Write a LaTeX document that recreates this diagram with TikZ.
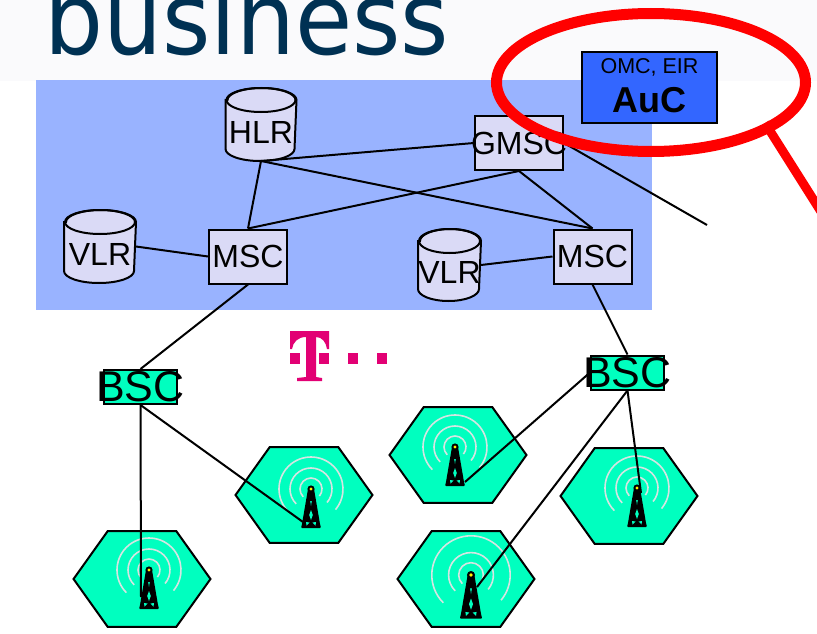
\documentclass[tikz,border=0pt]{standalone}
\usepackage{fontspec}
\setmainfont{Liberation Sans}
\newfontfamily\logofont{DejaVu Sans}

\definecolor{skyblue}{HTML}{99B3FF}
\definecolor{paleblue}{HTML}{DADAF6}
\definecolor{aucblue}{HTML}{3366FF}
\definecolor{cellgreen}{HTML}{00FFBF}
\definecolor{magenta}{HTML}{E20074}
\definecolor{navy}{HTML}{003153}
\definecolor{wavegray}{HTML}{D5E5E2}
\definecolor{headgray}{HTML}{FAFAFC}
\usetikzlibrary{shapes.geometric}

\tikzset{
  pics/mast/.style={code={
    \foreach \r in {#1} {
      \draw[wavegray,line width=1.6pt] (0,0) ++(135:\r) arc[start angle=135,end angle=400,radius=\r];
    }
    \fill[black,rounded corners=1pt] (-3,0) -- (3,0) -- (9,35) -- (10,39) -- (-10,39) -- (-9,35) -- cycle;
    \fill[black] (0,0) circle (3.6);
    \fill[yellow] (0,0) circle (1.6);
    \fill[cellgreen] (0,21) -- (1.8,26) -- (0,31) -- (-1.8,26) -- cycle;
    \fill[cellgreen] (-0.8,12) -- (0.8,12) -- (0,17) -- cycle;
    \fill[cellgreen] (-5,33) -- (-1.5,33.5) -- (-4.5,36.5) -- cycle;
    \fill[cellgreen] (5,33) -- (1.5,33.5) -- (4.5,36.5) -- cycle;
  }}
}

% name, centre x, centre y, half width, height, text
\newcommand{\store}[6]{
  \node[storebox,minimum width={2*#4},minimum height=#5] (#1) at (#2,#3) {};
  \draw[fill=paleblue] ([yshift=-12pt]#1.north west) -- ([yshift=12pt]#1.south west)
    arc[start angle=180,end angle=0,x radius=#4,y radius=12] -- ([yshift=-12pt]#1.north east)
    arc[start angle=0,end angle=-180,x radius=#4,y radius=12] -- cycle;
  \draw ([yshift=-12pt]#1.north) ellipse[x radius=#4,y radius=12];
  \node[storetext] (#1text) at (#2,#3+7.5) {#6};
}

\begin{document}
\begin{tikzpicture}[x=1pt,y=-1pt,line width=2pt]

\tikzstyle{storebox} = [rectangle, inner sep=0pt]
\tikzstyle{storetext} = [inner sep=0pt, font=\fontsize{32}{32}\selectfont]
\tikzstyle{switch} = [rectangle, draw, fill=paleblue, inner sep=0pt, minimum height=54pt,
                      font=\fontsize{32}{32}\selectfont]
\tikzstyle{bsc} = [rectangle, draw, fill=cellgreen, inner sep=0pt, minimum width=73pt,
                   minimum height=34pt, font=\fontsize{43}{43}\selectfont]
\tikzstyle{cell} = [regular polygon, regular polygon sides=6, draw, fill=cellgreen, inner sep=0pt,
                    minimum size=110.8pt, xscale=1.236]

\useasboundingbox (0,0) rectangle (817,634);
\clip (0,0) rectangle (817,634);

% backdrop
\fill[white] (0,0) rectangle (817,634);
\fill[headgray] (0,0) rectangle (817,81);
\node[anchor=base west,inner sep=0pt,text=navy,yscale=1.08] (TITLE) at (43,55)
  {\logofont\fontsize{93}{93}\selectfont business};
\fill[skyblue] (36,80) rectangle (652,310);

% links
\coordinate (F1) at (141,597);
\coordinate (F2) at (303,522);
\coordinate (F3) at (465,482);
\coordinate (F4) at (641,493);
\coordinate (F5) at (477,587);
\coordinate (TRUNK) at (707,225);

% network nodes
\store{HLR}{261}{124.5}{34.5}{71}{HLR}
\store{VLR1}{100}{246.5}{35}{71}{VLR}
\store{VLR2}{449.5}{265}{30.5}{70}{VLR}
\node[switch,minimum width=78pt] (MSC1) at (248,256.5) {MSC};
\node[switch,minimum width=78pt] (MSC2) at (592.5,256.5) {MSC};
\node[switch,minimum width=88pt] (GMSC) at (519,143) {\makebox[0pt]{GMSC}};
\node[rectangle,draw,fill=aucblue,inner sep=0pt,minimum width=135pt,minimum height=71pt,
      align=center] (AuC) at (649.5,87.5)
  {\fontsize{21.5}{25}\selectfont OMC, EIR\\[11pt]\fontsize{36}{40}\selectfont\bfseries AuC\rule[-4pt]{0pt}{4pt}};
\node[bsc] (BSC1) at (140.5,387) {\makebox[0pt]{BSC}};
\node[bsc] (BSC2) at (627.5,372.5) {\makebox[0pt]{BSC}};

% radio cells
\node[cell] (C1) at (142,579) {};
\node[cell] (C2) at (304,495) {};
\node[cell] (C3) at (458,455) {};
\node[cell] (C4) at (629,496) {};
\node[cell] (C5) at (466,579) {};
\pic at (149,570) {mast={11,21,32}};
\pic at (311,489) {mast={11,21,32}};
\pic at (455,447) {mast={11,21,32}};
\pic at (637,488) {mast={11,21,32}};
\pic[scale=1.12] at (471,575) {mast={11,20,35}};

\draw (HLR.south) -- (GMSC.west);
\draw (HLR.south) -- (MSC1.north);
\draw (HLR.south) -- (MSC2.north);
\draw (GMSC.south) -- (MSC1.north);
\draw (GMSC.south) -- (MSC2.north);
\draw (GMSC.east) -- (TRUNK);
\draw (VLR1.east) -- (MSC1.west);
\draw (VLR2.east) -- (MSC2.west);
\draw (MSC1.south) -- (BSC1.north);
\draw (MSC2.south) -- (BSC2.north);
\draw (BSC1.south) -- (F1);
\draw (BSC1.south) -- (F2);
\draw (BSC2.west) -- (F3);
\draw (BSC2.south) -- (F4);
\draw (BSC2.south) -- (F5);

% logo
\fill[magenta] (290,331) -- (329,331) -- (329,349) -- (327,349) .. controls (326,342) and (322,337) .. (316,337)
  -- (316,377) -- (322,378) -- (322,381) -- (297,381) -- (297,378) -- (306,377) -- (306,337)
  .. controls (298,337) and (293,342) .. (292,349) -- (290,349) -- cycle;
\fill[magenta] (290,353) rectangle (300,364);
\fill[magenta] (319,353) rectangle (329,364);
\fill[magenta] (348,353) rectangle (358,364);
\fill[magenta] (377,353) rectangle (387,364);

% red marking
\node[ellipse,draw=red,line width=11pt,minimum width=309pt,minimum height=138pt,inner sep=0pt] (RING) at (651,82.5) {};
\coordinate (TAIL) at (825,218);
\draw[red,line width=9pt] (765,123) -- (TAIL);

\end{tikzpicture}
\end{document}
